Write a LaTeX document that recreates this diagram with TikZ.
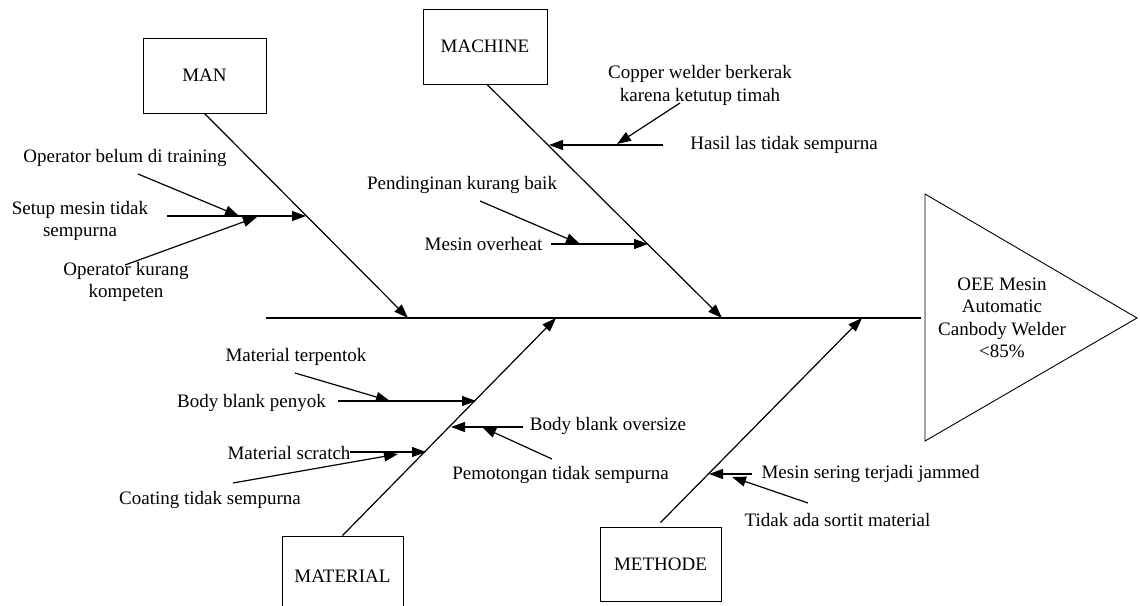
\documentclass[tikz,border=0pt]{standalone}
\usepackage{fontspec}
\setmainfont{Liberation Serif}
\usetikzlibrary{arrows.meta}

\tikzset{
  bone/.style={black, line width=1.2pt, -{Triangle[length=14pt, width=10pt]}},
  catbox/.style={draw, line width=0.9pt, minimum width=123pt, minimum height=75pt},
  cause/.style={inner sep=0pt, align=center},
}

\begin{document}
\begin{tikzpicture}[x=1pt, y=-1pt, font=\fontsize{19}{22.5}\selectfont]
\useasboundingbox (0,0) rectangle (1140,605);

\node[catbox] (man) at (204.5,75.5) {MAN};
\node[catbox, minimum width=124pt] (machine) at (485,46.5) {MACHINE};
\node[catbox, minimum width=121pt, minimum height=80pt] (material) at (342.5,576) {MATERIAL};
\node[catbox, minimum width=121pt, minimum height=74pt] (methode) at (660.5,564) {METHODE};

\draw[line width=0.9pt] (925,194) -- (1137,318) -- (925,441) -- cycle;
\node[cause] (effect) at (1002,318) {OEE Mesin\\Automatic\\Canbody Welder\\<85\%};

\coordinate (tail) at (266,318);
\coordinate (head) at (921,318);
\draw[line width=1.5pt] (tail) -- (head);

\coordinate (manhit) at (408,318);
\coordinate (machinehit) at (722,318);
\coordinate (materialhit) at (556,318);
\coordinate (methodehit) at (862,318);
\draw[bone] (man.south) -- (manhit);
\draw[bone] ([xshift=2pt]machine.south) -- (machinehit);
\draw[bone] (material.north) -- (materialhit);
\draw[bone] ([yshift=4pt]methode.north) -- (methodehit);

\node[cause] (training) at (125,158) {Operator belum di training};
\node[cause] (setup) at (80,221) {Setup mesin tidak\\sempurna};
\node[cause] (kompeten) at (126,282) {Operator kurang\\kompeten};
\coordinate (trainingtail) at (138,174);
\coordinate (trainingtip) at (239,216);
\coordinate (setuptail) at (167,216);
\coordinate (setuptip) at (306,216);
\coordinate (kompetentail) at (125,265);
\coordinate (kompetentip) at (257,217);
\draw[bone] (setuptail) -- (setuptip);
\draw[bone] (trainingtail) -- (trainingtip);
\draw[bone] (kompetentail) -- (kompetentip);

\node[cause] (copper) at (700,85.5) {Copper welder berkerak\\karena ketutup timah};
\node[cause] (hasil) at (784,145) {Hasil las tidak sempurna};
\node[cause] (pendingin) at (462,185) {Pendinginan kurang baik};
\node[cause] (overheat) at (483.5,244) {Mesin overheat};
\coordinate (coppertail) at (680,103);
\coordinate (coppertip) at (617,144);
\coordinate (hasiltail) at (663,145);
\coordinate (hasiltip) at (549,145);
\coordinate (pendingintail) at (480,201);
\coordinate (pendingintip) at (580,244);
\coordinate (overheattail) at (551,244);
\coordinate (overheattip) at (648,244);
\draw[bone] (hasiltail) -- (hasiltip);
\draw[bone] (coppertail) -- (coppertip);
\draw[bone] (overheattail) -- (overheattip);
\draw[bone] (pendingintail) -- (pendingintip);

\node[cause] (terpentok) at (296,357) {Material terpentok};
\node[cause] (penyok) at (251.5,403) {Body blank penyok};
\node[cause] (oversize) at (608,426) {Body blank oversize};
\node[cause] (pemotongan) at (560.5,475) {Pemotongan tidak sempurna};
\node[cause] (scratch) at (289,453) {Material scratch};
\node[cause] (coating) at (210,500) {Coating tidak sempurna};
\coordinate (terpentoktail) at (295,373);
\coordinate (terpentoktip) at (390,401);
\coordinate (penyoktail) at (338,401);
\coordinate (penyoktip) at (476,401);
\coordinate (oversizetail) at (523,427);
\coordinate (oversizetip) at (451,427);
\coordinate (pemotongantail) at (552,459);
\coordinate (pemotongantip) at (482,427);
\coordinate (scratchtail) at (350,452);
\coordinate (scratchtip) at (426,452);
\coordinate (coatingtail) at (233,483);
\coordinate (coatingtip) at (398,454);
\draw[bone] (penyoktail) -- (penyoktip);
\draw[bone] (terpentoktail) -- (terpentoktip);
\draw[bone] (oversizetail) -- (oversizetip);
\draw[bone] (pemotongantail) -- (pemotongantip);
\draw[bone] (scratchtail) -- (scratchtip);
\draw[bone] (coatingtail) -- (coatingtip);

\node[cause] (jammed) at (870.5,474) {Mesin sering terjadi jammed};
\node[cause] (sortit) at (837.5,520) {Tidak ada sortit material};
\coordinate (jammedtail) at (752,474);
\coordinate (jammedtip) at (709,474);
\coordinate (sortittail) at (808,503);
\coordinate (sortittip) at (732,477);
\draw[bone] (jammedtail) -- (jammedtip);
\draw[bone] (sortittail) -- (sortittip);
\end{tikzpicture}
\end{document}
